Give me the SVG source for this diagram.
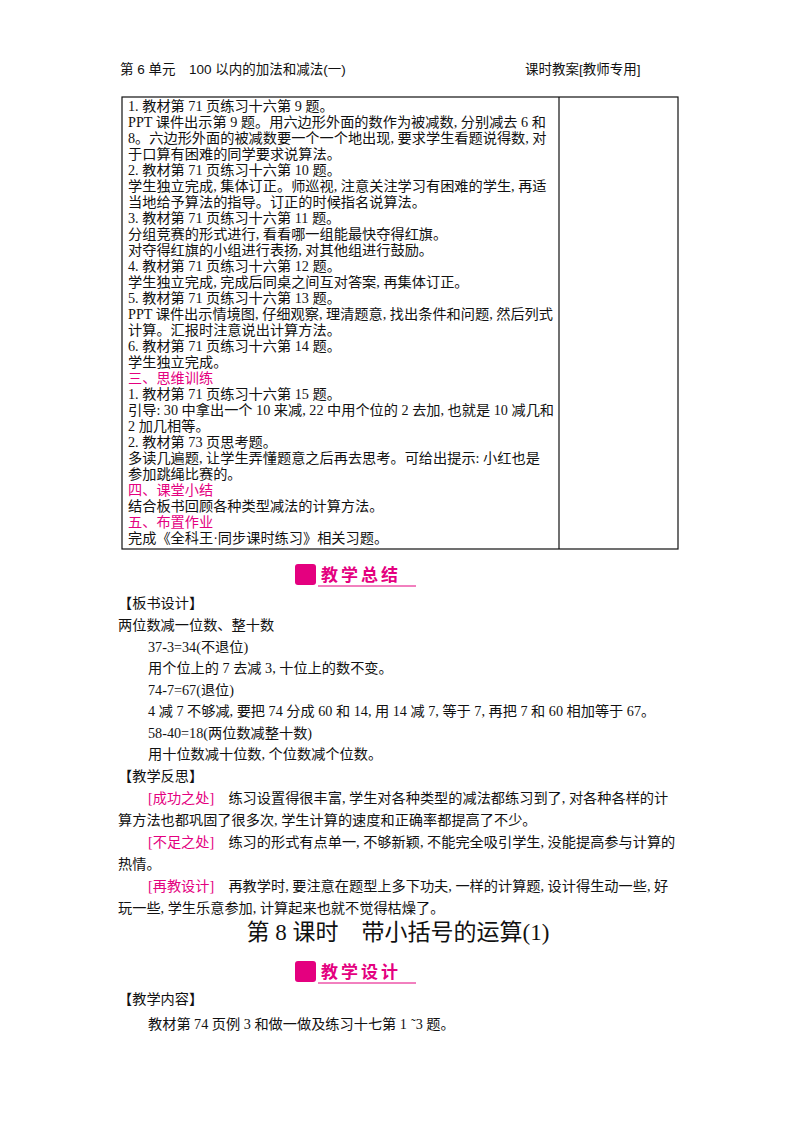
<svg xmlns="http://www.w3.org/2000/svg" width="800" height="1132" viewBox="0 0 800 1132">
<style>
text{font-family:"Liberation Serif","Noto Sans CJK SC",serif;font-size:14.2px;fill:#111}
.h{font-family:"Liberation Sans","Noto Sans CJK SC",sans-serif;font-size:13.5px}
.p{fill:#e4007f}
.b{font-family:"Noto Sans CJK SC",sans-serif;font-weight:bold;font-size:17px;fill:#e4007f;letter-spacing:3px}
.t{font-size:23px}
</style>
<rect width="800" height="1132" fill="#fff"/>
<text class="h" x="120" y="74">第 6 单元　100 以内的加法和减法(一)</text>
<text class="h" x="525" y="74">课时教案[教师专用]</text>
<g fill="none" stroke="#111" stroke-width="1.2"><rect x="122" y="97" width="556" height="452"/><line x1="559" y1="97" x2="559" y2="549"/></g>
<g>
<text x="128" y="111">1. 教材第 71 页练习十六第 9 题。</text>
<text x="128" y="127">PPT 课件出示第 9 题。用六边形外面的数作为被减数, 分别减去 6 和</text>
<text x="128" y="143">8。六边形外面的被减数要一个一个地出现, 要求学生看题说得数, 对</text>
<text x="128" y="159">于口算有困难的同学要求说算法。</text>
<text x="128" y="175">2. 教材第 71 页练习十六第 10 题。</text>
<text x="128" y="191">学生独立完成, 集体订正。师巡视, 注意关注学习有困难的学生, 再适</text>
<text x="128" y="207">当地给予算法的指导。订正的时候指名说算法。</text>
<text x="128" y="223">3. 教材第 71 页练习十六第 11 题。</text>
<text x="128" y="239">分组竞赛的形式进行, 看看哪一组能最快夺得红旗。</text>
<text x="128" y="255">对夺得红旗的小组进行表扬, 对其他组进行鼓励。</text>
<text x="128" y="271">4. 教材第 71 页练习十六第 12 题。</text>
<text x="128" y="287">学生独立完成, 完成后同桌之间互对答案, 再集体订正。</text>
<text x="128" y="303">5. 教材第 71 页练习十六第 13 题。</text>
<text x="128" y="319">PPT 课件出示情境图, 仔细观察, 理清题意, 找出条件和问题, 然后列式</text>
<text x="128" y="335">计算。汇报时注意说出计算方法。</text>
<text x="128" y="351">6. 教材第 71 页练习十六第 14 题。</text>
<text x="128" y="367">学生独立完成。</text>
<text class="p" x="128" y="383">三、思维训练</text>
<text x="128" y="399">1. 教材第 71 页练习十六第 15 题。</text>
<text x="128" y="415">引导: 30 中拿出一个 10 来减, 22 中用个位的 2 去加, 也就是 10 减几和</text>
<text x="128" y="431">2 加几相等。</text>
<text x="128" y="447">2. 教材第 73 页思考题。</text>
<text x="128" y="463">多读几遍题, 让学生弄懂题意之后再去思考。可给出提示: 小红也是</text>
<text x="128" y="479">参加跳绳比赛的。</text>
<text class="p" x="128" y="495">四、课堂小结</text>
<text x="128" y="511">结合板书回顾各种类型减法的计算方法。</text>
<text class="p" x="128" y="527">五、布置作业</text>
<text x="128" y="543">完成《全科王·同步课时练习》相关习题。</text>
</g>
<g id="banner1"><rect x="295" y="564" width="21" height="21" rx="3" fill="#e4007f"/><text class="b" x="321" y="581">教学总结</text><line x1="318" y1="586" x2="416" y2="586" stroke="#e4007f" stroke-width="1"/></g>
<text x="118" y="608">【板书设计】</text>
<text x="118" y="630">两位数减一位数、整十数</text>
<text x="148" y="652">37-3=34(不退位)</text>
<text x="148" y="673">用个位上的 7 去减 3, 十位上的数不变。</text>
<text x="148" y="695">74-7=67(退位)</text>
<text x="148" y="716">4 减 7 不够减, 要把 74 分成 60 和 14, 用 14 减 7, 等于 7, 再把 7 和 60 相加等于 67。</text>
<text x="148" y="738">58-40=18(两位数减整十数)</text>
<text x="148" y="759">用十位数减十位数, 个位数减个位数。</text>
<text x="118" y="781">【教学反思】</text>
<text x="148" y="803"><tspan class="p">[成功之处]</tspan>　练习设置得很丰富, 学生对各种类型的减法都练习到了, 对各种各样的计</text>
<text x="118" y="825">算方法也都巩固了很多次, 学生计算的速度和正确率都提高了不少。</text>
<text x="148" y="847"><tspan class="p">[不足之处]</tspan>　练习的形式有点单一, 不够新颖, 不能完全吸引学生, 没能提高参与计算的</text>
<text x="118" y="869">热情。</text>
<text x="148" y="891"><tspan class="p">[再教设计]</tspan>　再教学时, 要注意在题型上多下功夫, 一样的计算题, 设计得生动一些, 好</text>
<text x="118" y="913">玩一些, 学生乐意参加, 计算起来也就不觉得枯燥了。</text>
<text class="t" x="398" y="940" text-anchor="middle">第 8 课时　带小括号的运算(1)</text>
<g id="banner2"><rect x="295" y="961" width="21" height="21" rx="3" fill="#e4007f"/><text class="b" x="321" y="978">教学设计</text><line x1="318" y1="983" x2="416" y2="983" stroke="#e4007f" stroke-width="1"/></g>
<text x="118" y="1004">【教学内容】</text>
<text x="148" y="1029">教材第 74 页例 3 和做一做及练习十七第 1<tspan dx="4">˜</tspan>3 题。</text>
</svg>
